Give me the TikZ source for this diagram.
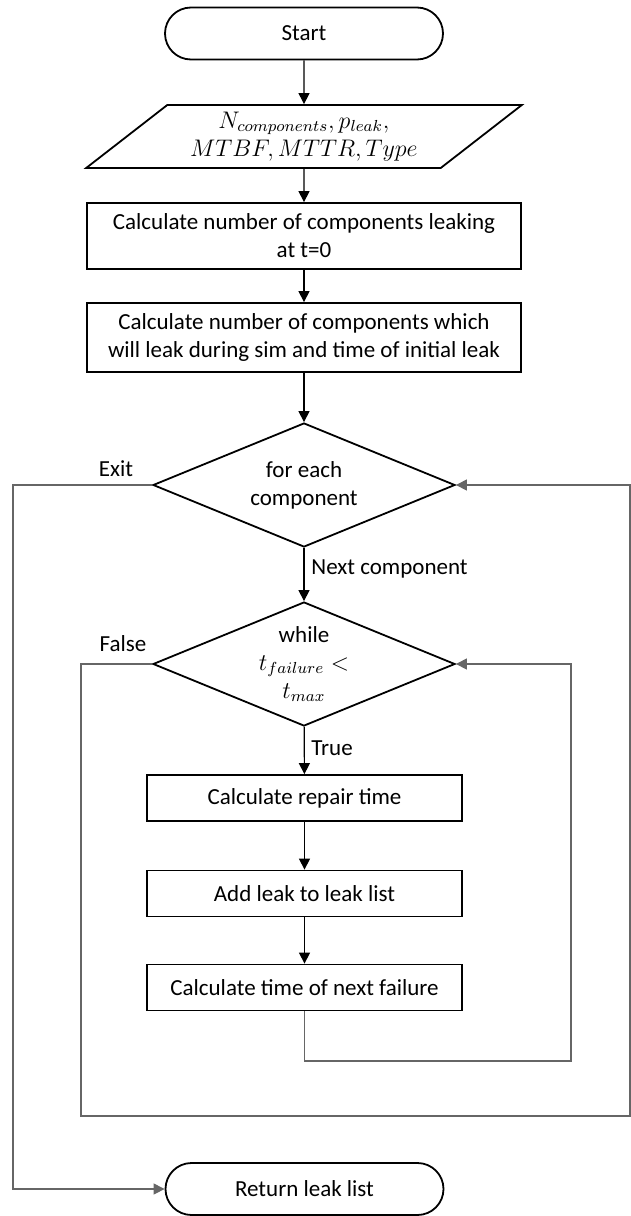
\documentclass[tikz,border=0pt]{standalone}
\usepackage{fontspec}
\setmainfont{Carlito}
\usetikzlibrary{arrows.meta,shapes.geometric,shapes.misc}

\tikzset{
  term/.style={draw,line width=0.9pt,rounded rectangle,minimum width=139pt,minimum height=26pt,inner sep=0pt},
  io/.style={draw,line width=0.9pt,trapezium,trapezium left angle=36,trapezium right angle=144,
    trapezium stretches=true,minimum width=218pt,minimum height=31.5pt,inner sep=0pt,align=center},
  proc/.style={draw,line width=0.9pt,rectangle,inner sep=0pt,align=center},
  decide/.style={draw,line width=0.9pt,diamond,aspect=2.4,minimum width=151pt,minimum height=62pt,inner sep=0pt,align=center},
  flow/.style={line width=0.6pt},
  loop/.style={line width=0.6pt,black!60},
  lbl/.style={inner sep=0pt}
}

\begin{document}
\begin{tikzpicture}[x=0.5pt,y=-0.5pt,>={Triangle[length=5.5pt,width=5.5pt]},font=\fontsize{11.5}{14}\selectfont]
	  \useasboundingbox (0,0) rectangle (631,1216);
	  % main column
	  \node[term] (start) at (304,33.5) {Start};
	  \node[io] (input) at (304,136.5) {$N_{components}, p_{leak},$\\[0pt] $MTBF, MTTR, Type$};
	  \node[proc,minimum width=217pt,minimum height=33pt] (count0) at (304,236)
	    {Calculate number of components leaking\\ at t=0};
	  \node[proc,minimum width=217pt,minimum height=34.5pt] (countsim) at (304,337.5)
	    {Calculate number of components which\\ will leak during sim and time of initial leak};
	  \node[decide] (forcomp) at (304,485) {for each\\ component};
	  \node[decide] (whileloop) at (304,664) {while\\[0pt] $t_{failure} <$\\[0pt] $t_{max}$};
	  \node[proc,minimum width=157.5pt,minimum height=23pt] (repair) at (304.5,798) {Calculate repair time};
	  \node[proc,minimum width=157.5pt,minimum height=23pt] (addleak) at (304.5,893.5) {Add leak to leak list};
	  \node[proc,minimum width=157.5pt,minimum height=23pt] (nextfail) at (304.5,987.5) {Calculate time of next failure};
	  \node[term] (finish) at (304.5,1189) {Return leak list};
	  % labels
	  \node[lbl] (exitlbl) at (116,469) {Exit};
	  \node[lbl] (falselbl) at (123,644) {False};
	  \node[lbl,anchor=west] (nextlbl) at (311,569) {Next component};
	  \node[lbl,anchor=west] (truelbl) at (311,748) {True};
	  % arrows
	  \draw[flow,->] (start) -- (input);
	  \draw[flow,->] (input) -- (count0);
	  \draw[flow,->] (count0) -- (countsim);
	  \draw[flow,->] (countsim) -- (forcomp);
	  \draw[flow,->] (forcomp) -- (whileloop);
	  \draw[flow,->] (whileloop) -- (repair);
	  \draw[flow,->] (repair) -- (addleak);
	  \draw[flow,->] (addleak) -- (nextfail);
	  \draw[loop,->] (nextfail.south) |- (571,1061) |- (whileloop.east);
	  \draw[loop,->] (whileloop.west) -| (81,1116) -| (630,485) -- (forcomp.east);
	  \draw[loop,->] (forcomp.west) -| (13,1189) -- (finish.west);
	\end{tikzpicture}
\end{document}
